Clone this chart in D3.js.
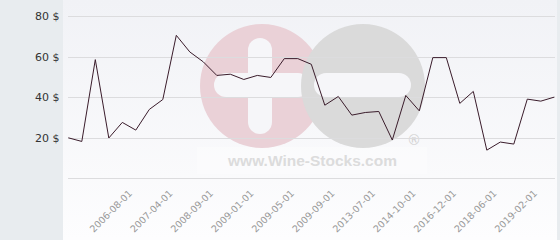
<!DOCTYPE html>
<html><head><meta charset="utf-8">
<script src="https://cdn.jsdelivr.net/npm/d3@7"></script>
<style>html,body{margin:0;padding:0;background:#e8ecef;}svg{display:block;}</style>
</head><body><svg id="c" width="560" height="240"></svg>
<script>
const prices = [20,18.2,58.6,19.9,27.6,23.8,34,38.9,70.6,62.4,57.5,50.8,51.4,48.8,50.8,49.8,59.1,59.1,56.3,36.1,40.4,31.2,32.5,33,18.9,40.9,33.3,59.6,59.6,37,42.9,13.9,17.9,16.9,39.1,38.1,40.1];
const tickLabels = ["2006-08-01","2007-04-01","2008-09-01","2009-01-01","2009-05-01","2009-09-01","2013-07-01","2014-10-01","2016-12-01","2018-06-01","2019-02-01"];
const tickPositions = [5,8,11,14,17,20,23,26,29,32,35];
const yTicks = [0,20,40,60,80];

const svg = d3.select("#c");
const W=560,H=240;
const plotL=63, plotR=557;
const x = d3.scalePoint().domain(d3.range(prices.length)).range([68.3,554.3]);
const y = d3.scaleLinear().domain([0,80]).range([178.3,16.3]);

const defs = svg.append("defs");
const g = defs.append("linearGradient").attr("id","bg").attr("x1",0).attr("y1",0).attr("x2",0).attr("y2",1);
g.append("stop").attr("offset","0%").attr("stop-color","#f1f2f6");
g.append("stop").attr("offset","100%").attr("stop-color","#fdfdfe");

svg.append("rect").attr("width",W).attr("height",H).attr("fill","#e8ecef");
svg.append("rect").attr("x",plotL).attr("y",0).attr("width",plotR-plotL).attr("height",H).attr("fill","url(#bg)");

// watermark
const wm = svg.append("g");
wm.append("rect").attr("x",197).attr("y",147).attr("width",230).attr("height",27).attr("fill","#ffffff").attr("opacity",0.3);
wm.append("circle").attr("cx",262).attr("cy",86).attr("r",62).attr("fill","#ead1d7");
wm.append("rect").attr("x",248).attr("y",38).attr("width",24).attr("height",96).attr("rx",12).attr("fill","#f6f6f9");
wm.append("rect").attr("x",214).attr("y",73).attr("width",96).attr("height",24).attr("rx",12).attr("fill","#f6f6f9");
wm.append("circle").attr("cx",363).attr("cy",86).attr("r",62).attr("fill","#dadada");
wm.append("rect").attr("x",314).attr("y",73).attr("width",97).attr("height",24).attr("rx",12).attr("fill","#f6f6f9");
wm.append("text").attr("x",312.5).attr("y",166).attr("text-anchor","middle")
  .attr("font-family","Liberation Sans, Arial, sans-serif").attr("font-weight","bold").attr("font-size",15.5)
  .attr("fill","#dcdcdc").text("www.Wine-Stocks.com");
wm.append("text").attr("x",407).attr("y",144.5)
  .attr("font-family","DejaVu Sans, sans-serif").attr("font-size",14)
  .attr("fill","#d2d2d2").text("®");

// grid
svg.append("g").selectAll("line").data(yTicks).join("line")
  .attr("x1",68).attr("x2",555).attr("y1",d=>Math.round(y(d))+0.5).attr("y2",d=>Math.round(y(d))+0.5)
  .attr("stroke","#dcdcde").attr("stroke-width",1);

// y labels
svg.append("g").selectAll("text").data(yTicks.filter(d=>d>0)).join("text")
  .attr("x",59.5).attr("y",d=>y(d)+4).attr("text-anchor","end")
  .attr("font-family","DejaVu Sans, sans-serif").attr("font-size",11).attr("fill","#333")
  .text(d=>d+" $");

// line
svg.append("path").datum(prices)
  .attr("d",d3.line().x((d,i)=>x(i)).y(d=>y(d)))
  .attr("fill","none").attr("stroke","#3a1c2b").attr("stroke-width",1).attr("stroke-linejoin","round");

// x labels
svg.append("g").selectAll("text").data(tickLabels).join("text")
  .attr("transform",(d,i)=>`translate(${x(tickPositions[i])-3},194) rotate(-45)`)
  .attr("text-anchor","end")
  .attr("font-family","DejaVu Sans, sans-serif").attr("font-size",9.5).attr("fill","#999")
  .text(d=>d);
</script></body></html>
